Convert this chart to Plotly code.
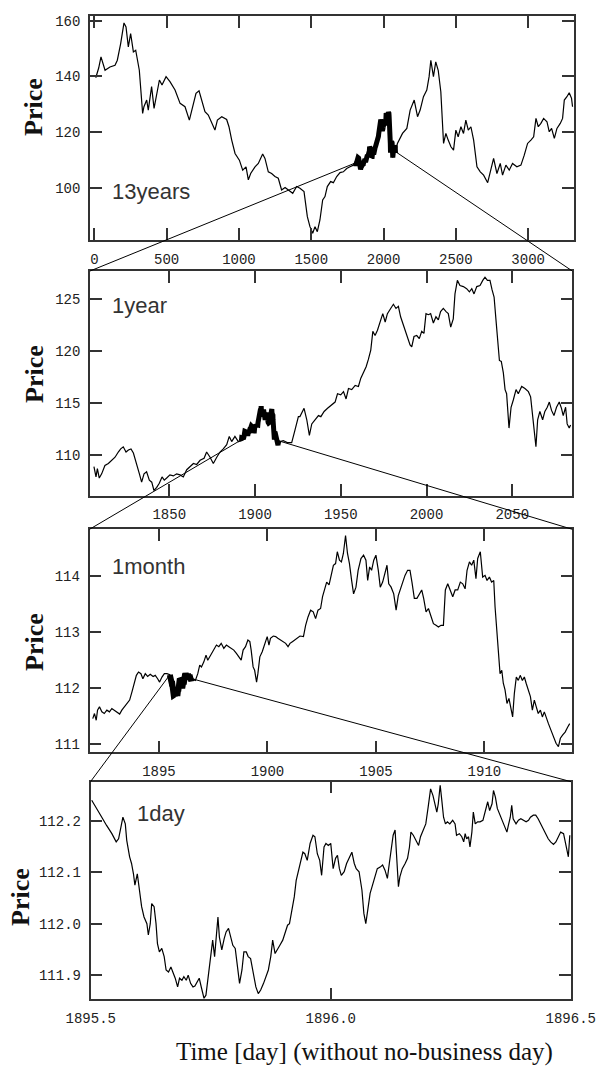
import plotly.graph_objects as go

W, H = 599, 1071

# ---------------- data ----------------
# 1 day window
day_x = [1895.502, 1895.513, 1895.523, 1895.533, 1895.544, 1895.553, 1895.558, 1895.563, 1895.567, 1895.572,
         1895.575, 1895.581, 1895.585, 1895.589, 1895.592, 1895.597, 1895.601, 1895.606, 1895.611, 1895.617,
         1895.620, 1895.624, 1895.627, 1895.632, 1895.636, 1895.639, 1895.643, 1895.648, 1895.653, 1895.657,
         1895.662, 1895.667, 1895.671, 1895.676, 1895.681, 1895.685, 1895.690, 1895.694, 1895.699, 1895.703,
         1895.708, 1895.713, 1895.717, 1895.722, 1895.726, 1895.731, 1895.736, 1895.740, 1895.745, 1895.750,
         1895.754, 1895.758, 1895.761, 1895.765, 1895.768, 1895.773, 1895.778, 1895.782, 1895.787, 1895.792,
         1895.796, 1895.801, 1895.806, 1895.810, 1895.815, 1895.819, 1895.824, 1895.828, 1895.833, 1895.839,
         1895.844, 1895.849, 1895.854, 1895.860, 1895.865, 1895.870, 1895.875, 1895.879, 1895.884, 1895.889,
         1895.894, 1895.900, 1895.905, 1895.910, 1895.914, 1895.919, 1895.924, 1895.928, 1895.933, 1895.937,
         1895.942, 1895.946, 1895.951, 1895.957, 1895.963, 1895.967, 1895.972, 1895.977, 1895.981, 1895.986,
         1895.990, 1895.995, 1896.000, 1896.005, 1896.010, 1896.014, 1896.018, 1896.022, 1896.028, 1896.033,
         1896.039, 1896.044, 1896.049, 1896.053, 1896.059, 1896.065, 1896.069, 1896.073, 1896.077, 1896.082,
         1896.087, 1896.092, 1896.097, 1896.103, 1896.108, 1896.113, 1896.118, 1896.122, 1896.127, 1896.130,
         1896.134, 1896.137, 1896.141, 1896.144, 1896.149, 1896.155, 1896.160, 1896.164, 1896.167, 1896.172,
         1896.178, 1896.183, 1896.187, 1896.193, 1896.198, 1896.203, 1896.208, 1896.213, 1896.217, 1896.221,
         1896.224, 1896.228, 1896.231, 1896.235, 1896.239, 1896.243, 1896.248, 1896.254, 1896.259, 1896.262,
         1896.268, 1896.273, 1896.277, 1896.280, 1896.283, 1896.287, 1896.290, 1896.294, 1896.297, 1896.301,
         1896.306, 1896.311, 1896.317, 1896.322, 1896.327, 1896.331, 1896.336, 1896.339, 1896.343, 1896.347,
         1896.353, 1896.358, 1896.363, 1896.367, 1896.370, 1896.374, 1896.377, 1896.380, 1896.386, 1896.391,
         1896.396, 1896.401, 1896.407, 1896.412, 1896.416, 1896.422, 1896.427, 1896.432, 1896.437, 1896.443,
         1896.448, 1896.453, 1896.458, 1896.464, 1896.469, 1896.474, 1896.479, 1896.485, 1896.488, 1896.492,
         1896.495, 1896.498]
day_p = [112.240, 112.224, 112.207, 112.191, 112.175, 112.159, 112.165, 112.188, 112.207, 112.194,
         112.162, 112.130, 112.117, 112.097, 112.075, 112.097, 112.068, 112.033, 112.013, 112.000,
         111.978, 112.000, 112.039, 112.033, 112.000, 111.961, 111.945, 111.952, 111.936, 111.910,
         111.906, 111.916, 111.906, 111.894, 111.877, 111.894, 111.890, 111.897, 111.890, 111.900,
         111.884, 111.877, 111.879, 111.887, 111.894, 111.874, 111.855, 111.861, 111.897, 111.936,
         111.968, 111.936, 111.978, 112.013, 111.974, 111.949, 111.971, 111.984, 111.991, 111.974,
         111.958, 111.952, 111.916, 111.884, 111.910, 111.945, 111.945, 111.936, 111.932, 111.903,
         111.877, 111.864, 111.871, 111.884, 111.897, 111.910, 111.936, 111.968, 111.942, 111.949,
         111.958, 111.968, 111.981, 111.997, 112.000, 112.026, 112.052, 112.084, 112.104, 112.118,
         112.139, 112.136, 112.123, 112.156, 112.172, 112.169, 112.136, 112.123, 112.094, 112.149,
         112.156, 112.152, 112.156, 112.107, 112.127, 112.133, 112.107, 112.094, 112.101, 112.117,
         112.130, 112.139, 112.117, 112.107, 112.101, 112.065, 112.020, 112.000, 112.026, 112.059,
         112.075, 112.091, 112.107, 112.110, 112.114, 112.104, 112.088, 112.117, 112.159, 112.172,
         112.182, 112.136, 112.072, 112.091, 112.107, 112.117, 112.127, 112.149, 112.178, 112.172,
         112.162, 112.152, 112.169, 112.182, 112.194, 112.227, 112.262, 112.249, 112.230, 112.217,
         112.233, 112.269, 112.243, 112.207, 112.194, 112.198, 112.194, 112.201, 112.194, 112.172,
         112.175, 112.169, 112.159, 112.175, 112.165, 112.169, 112.149, 112.178, 112.217, 112.194,
         112.198, 112.198, 112.201, 112.220, 112.237, 112.220, 112.233, 112.259, 112.246, 112.224,
         112.211, 112.198, 112.188, 112.178, 112.191, 112.207, 112.230, 112.204, 112.194, 112.201,
         112.204, 112.201, 112.198, 112.201, 112.207, 112.211, 112.211, 112.204, 112.194, 112.185,
         112.172, 112.165, 112.159, 112.154, 112.159, 112.169, 112.178, 112.175, 112.159, 112.139,
         112.130, 112.172]

# 1 month window (points outside the 1-day window)
month_x = [1891.95, 1892.03, 1892.11, 1892.17, 1892.26, 1892.37, 1892.48, 1892.60, 1892.72, 1892.83,
           1892.94, 1893.06, 1893.19, 1893.29, 1893.40, 1893.52, 1893.65, 1893.76, 1893.86, 1893.96,
           1894.06, 1894.17, 1894.26, 1894.37, 1894.48, 1894.60, 1894.73, 1894.83, 1894.94, 1895.03,
           1895.14, 1895.25, 1895.37,
           1896.68, 1896.79, 1896.88, 1896.96, 1897.07, 1897.17, 1897.25, 1897.34, 1897.45, 1897.53,
           1897.65, 1897.76, 1897.87, 1897.99, 1898.11, 1898.22, 1898.33, 1898.45, 1898.57, 1898.68,
           1898.79, 1898.88, 1898.99, 1899.10, 1899.19, 1899.25, 1899.34, 1899.41, 1899.50, 1899.56,
           1899.65, 1899.76, 1899.84, 1899.91, 1899.99, 1900.07, 1900.14, 1900.27, 1900.38, 1900.48,
           1900.61, 1900.73, 1900.84, 1900.95, 1901.04, 1901.15, 1901.25, 1901.38, 1901.50, 1901.66,
           1901.76, 1901.87, 1901.99, 1902.11, 1902.22, 1902.33, 1902.45, 1902.54, 1902.64, 1902.73,
           1902.84, 1902.94, 1903.04, 1903.14, 1903.22, 1903.32, 1903.41, 1903.50, 1903.60, 1903.69,
           1903.78, 1903.88, 1903.97, 1904.08, 1904.18, 1904.31, 1904.43, 1904.54, 1904.62, 1904.71,
           1904.80, 1904.90, 1905.00, 1905.11, 1905.20, 1905.31, 1905.42, 1905.51, 1905.59, 1905.70,
           1905.82, 1905.93, 1906.03, 1906.12, 1906.23, 1906.34, 1906.46, 1906.57, 1906.66, 1906.77,
           1906.89, 1907.00, 1907.11, 1907.20, 1907.31, 1907.42, 1907.54, 1907.65, 1907.77, 1907.88,
           1908.00, 1908.11, 1908.20, 1908.31, 1908.42, 1908.54, 1908.65, 1908.77, 1908.89, 1909.00,
           1909.11, 1909.20, 1909.31, 1909.41, 1909.51, 1909.61, 1909.69, 1909.81, 1909.92, 1910.03,
           1910.12, 1910.23, 1910.33, 1910.43, 1910.49, 1910.57, 1910.64, 1910.72, 1910.80, 1910.87,
           1910.95, 1911.04, 1911.13, 1911.22, 1911.30, 1911.38, 1911.47, 1911.56, 1911.65, 1911.75,
           1911.84, 1911.93, 1912.02, 1912.12, 1912.21, 1912.30, 1912.39, 1912.48, 1912.58, 1912.67,
           1912.76, 1912.85, 1912.95, 1913.07, 1913.19, 1913.30, 1913.41, 1913.50, 1913.61, 1913.72,
           1913.84, 1913.93]
month_p = [111.46, 111.55, 111.43, 111.61, 111.67, 111.58, 111.55, 111.61, 111.58, 111.64,
           111.61, 111.58, 111.54, 111.61, 111.67, 111.73, 111.79, 111.94, 112.08, 112.23,
           112.29, 112.26, 112.17, 112.26, 112.21, 112.25, 112.21, 112.23, 112.17, 112.11,
           112.20, 112.26, 112.26,
           112.14, 112.26, 112.41, 112.38, 112.47, 112.59, 112.50, 112.56, 112.62, 112.68,
           112.77, 112.74, 112.80, 112.71, 112.77, 112.74, 112.71, 112.68, 112.62, 112.56,
           112.50, 112.68, 112.74, 112.86, 112.83, 112.68, 112.38, 112.32, 112.11, 112.26,
           112.56, 112.65, 112.74, 112.83, 112.92, 112.77, 112.89, 112.93, 112.92, 112.89,
           112.86, 112.83, 112.80, 112.74, 112.80, 112.83, 112.86, 112.89, 112.93, 112.92,
           113.12, 113.27, 113.39, 113.36, 113.24, 113.39, 113.42, 113.63, 113.75, 113.89,
           113.84, 114.04, 114.19, 114.22, 114.43, 114.28, 114.25, 114.40, 114.72, 114.40,
           114.22, 113.92, 113.68, 113.80, 114.10, 114.31, 114.37, 114.28, 113.92, 114.16,
           114.10, 114.28, 114.37, 114.10, 113.80, 113.89, 114.07, 114.19, 113.86, 113.80,
           113.68, 113.39, 113.65, 113.75, 113.89, 114.01, 114.10, 114.10, 113.89, 113.60,
           113.60, 113.68, 113.75, 113.60, 113.36, 113.42, 113.27, 113.15, 113.12, 113.09,
           113.12, 113.12, 113.75, 113.86, 113.75, 113.63, 113.75, 113.75, 113.89, 113.86,
           113.77, 114.10, 114.25, 114.19, 114.28, 113.95, 114.31, 114.43, 113.98, 114.01,
           113.92, 113.98, 113.89, 113.92, 113.45, 112.97, 112.62, 112.26, 112.32, 112.09,
           111.97, 111.73, 111.82, 111.61, 111.49, 111.91, 112.20, 112.14, 112.23, 112.14,
           112.20, 112.08, 111.97, 111.85, 111.61, 111.79, 111.67, 111.55, 111.61, 111.49,
           111.58, 111.46, 111.37, 111.25, 111.14, 111.02, 110.96, 111.11, 111.17, 111.22,
           111.31, 111.37]

# 1 year window (points outside the 1-month window)
year_x = [1806.1, 1807.3, 1808.1, 1809.2, 1810.6, 1812.5, 1814.5, 1816.4, 1818.4, 1820.3,
          1821.7, 1823.2, 1824.8, 1826.2, 1827.7, 1829.1, 1831.0, 1832.6, 1833.9, 1835.3,
          1836.8, 1838.4, 1839.8, 1841.1, 1842.7, 1844.2, 1845.8, 1847.1, 1848.5, 1850.4,
          1852.4, 1854.3, 1856.3, 1858.2, 1860.2, 1862.1, 1864.1, 1866.0, 1868.0, 1870.3,
          1871.8, 1873.8, 1875.7, 1877.7, 1879.6, 1881.5, 1883.5, 1885.0, 1886.4, 1888.3,
          1890.3,
          1914.6, 1916.5, 1918.8, 1921.4, 1923.3, 1925.3, 1926.2, 1928.6, 1930.2, 1931.7,
          1933.1, 1935.0, 1937.0, 1938.4, 1940.3, 1942.3, 1944.8, 1946.7, 1948.1, 1950.0,
          1951.6, 1953.1, 1954.5, 1956.4, 1958.4, 1960.3, 1961.7, 1963.3, 1964.8, 1966.1,
          1967.5, 1968.7, 1970.0, 1971.4, 1972.9, 1974.5, 1975.9, 1977.2, 1979.1, 1980.7,
          1982.2, 1983.6, 1984.9, 1986.1, 1987.5, 1988.8, 1990.4, 1991.4, 1992.7, 1994.3,
          1995.8, 1997.2, 1998.5, 1999.7, 2001.1, 2002.4, 2004.0, 2005.5, 2006.9, 2008.2,
          2009.8, 2011.4, 2012.7, 2014.1, 2015.6, 2016.6, 2018.0, 2019.5, 2021.5, 2023.4,
          2025.0, 2026.4, 2027.7, 2029.3, 2031.2, 2032.8, 2034.1, 2035.5, 2037.0, 2038.2,
          2039.4, 2040.5, 2041.5, 2042.5, 2043.6, 2044.8, 2045.8, 2046.7, 2048.1, 2049.3,
          2050.6, 2052.2, 2053.5, 2055.5, 2057.4, 2059.4, 2060.7, 2061.9, 2062.8, 2063.8,
          2064.8, 2066.1, 2067.7, 2069.0, 2070.4, 2071.6, 2072.9, 2074.3, 2075.8, 2077.4,
          2078.7, 2079.7, 2081.1, 2082.0, 2083.2, 2084.0]
year_p = [108.9, 107.9, 108.7, 107.8, 108.2, 109.0, 109.2, 109.5, 109.8, 110.3,
          110.6, 110.8, 110.3, 110.5, 110.6, 110.2, 109.2, 108.2, 107.4, 108.2,
          108.4, 107.6, 107.4, 106.6, 106.9, 107.3, 107.9, 107.6, 107.8, 108.1,
          108.0, 108.2, 108.1, 107.9, 108.6, 108.9, 109.2, 109.1, 109.5, 109.7,
          110.3, 109.8, 109.2, 109.8, 110.3, 110.6, 111.0, 111.8, 111.3, 111.8,
          111.3,
          111.3, 111.4, 111.2, 111.2, 112.4, 113.7, 113.7, 114.5, 113.4, 111.9,
          113.0, 113.4, 113.8, 113.7, 114.2, 114.5, 114.8, 115.1, 115.9, 115.8,
          116.1, 115.4, 116.4, 116.3, 116.7, 116.6, 117.4, 118.0, 118.5, 119.2,
          120.1, 121.9, 121.5, 122.0, 122.7, 123.6, 122.8, 123.6, 124.1, 124.5,
          124.1, 124.3, 123.3, 122.7, 122.0, 121.4, 120.6, 120.4, 121.4, 121.5,
          121.2, 121.9, 121.7, 123.6, 123.5, 123.6, 122.7, 123.3, 123.0, 123.8,
          124.1, 123.8, 123.6, 122.3, 123.1, 125.5, 126.8, 126.3, 126.2, 126.0,
          125.7, 126.0, 125.5, 126.2, 126.3, 126.8, 127.1, 126.8, 126.8, 125.9,
          125.2, 123.0, 120.7, 119.1, 119.0, 117.9, 116.3, 115.9, 112.6, 114.6,
          115.3, 116.3, 115.9, 116.6, 116.4, 116.1, 115.6, 113.7, 112.1, 110.8,
          113.4, 114.2, 113.4, 114.2, 114.6, 115.1, 114.3, 113.8, 114.6, 115.1,
          114.5, 113.8, 114.6, 113.0, 112.6, 112.9]

# 13 years (points outside the 1-year window)
thirteen_x = [10, 30, 46, 74, 108, 143, 159, 182, 205, 219, 235, 251, 270, 286, 311, 334, 343, 362, 373, 396,
              413, 431, 450, 468, 496, 523, 558, 593, 627, 657, 673, 703, 724, 742, 765, 788, 811, 834, 851, 881,
              915, 931, 950, 973, 1003, 1026, 1049, 1065, 1081, 1111, 1134, 1164, 1180, 1203, 1226, 1249, 1272,
              1295, 1319, 1342, 1372, 1399, 1422, 1450, 1473, 1491, 1510, 1526, 1542, 1560, 1579, 1595, 1611,
              1634, 1653, 1676, 1699, 1722, 1745, 1768, 1791,
              2096, 2131, 2161, 2184, 2212, 2235, 2253, 2276, 2299, 2315, 2327, 2345, 2361, 2378, 2396, 2415,
              2431, 2447, 2466, 2484, 2500, 2516, 2535, 2553, 2569, 2586, 2604, 2623, 2646, 2669, 2692, 2720,
              2743, 2761, 2784, 2807, 2823, 2846, 2869, 2892, 2922, 2950, 2973, 2996, 3019, 3038, 3054, 3070,
              3088, 3107, 3130, 3146, 3162, 3181, 3199, 3222, 3238, 3250, 3268, 3284, 3300, 3307]
thirteen_p = [139.5, 143.0, 147.0, 142.2, 143.4, 144.0, 145.8, 151.8, 159.2, 157.8, 150.6, 155.4, 148.8, 149.4,
              142.2, 126.7, 129.1, 131.5, 127.9, 136.3, 128.5, 133.9, 138.7, 136.9, 139.9, 138.1, 135.1, 130.3,
              129.1, 124.3, 127.3, 133.9, 134.8, 131.5, 127.3, 126.1, 123.1, 120.7, 124.3, 125.5, 124.5, 121.9,
              117.1, 112.3, 109.9, 106.3, 107.5, 102.8, 105.1, 107.5, 108.7, 112.1, 110.5, 105.7, 105.1, 104.0,
              103.4, 99.2, 100.1, 99.2, 98.0, 100.4, 99.8, 98.6, 89.6, 86.0, 83.6, 86.0, 84.2, 88.4, 95.6, 96.8,
              100.4, 102.2, 101.8, 104.0, 105.4, 105.7, 106.9, 107.5, 108.1,
              115.9, 119.5, 121.3, 127.9, 131.5, 125.5, 127.9, 132.7, 135.1, 139.9, 145.8, 139.9, 145.2, 142.2,
              134.5, 115.9, 119.5, 117.1, 114.7, 113.5, 120.7, 118.3, 121.9, 119.5, 124.3, 120.7, 121.9, 117.1,
              107.5, 105.7, 104.5, 101.8, 106.9, 110.5, 105.1, 108.7, 104.5, 108.1, 106.3, 108.7, 107.5, 108.1,
              111.7, 115.9, 117.1, 118.3, 124.9, 121.9, 123.1, 124.9, 123.7, 120.1, 121.3, 117.7, 121.3, 123.1,
              124.9, 131.5, 132.7, 134.1, 132.1, 129.1]

panel_labels = ["13years", "1year", "1month", "1day"]
x_ticks = [[0, 500, 1000, 1500, 2000, 2500, 3000],
           [1850, 1900, 1950, 2000, 2050],
           [1895, 1900, 1905, 1910],
           [1895.5, 1896.0, 1896.5]]
y_ticks = [[100, 120, 140, 160],
           [110, 115, 120, 125],
           [111, 112, 113, 114],
           [111.9, 112.0, 112.1, 112.2]]
x_ranges = [[-30, 3317], [1803.8, 2085.0], [1891.8, 1914.05], [1895.4995, 1896.5005]]
y_ranges = [[81.2, 161.7], [106.1, 127.7], [110.86, 114.83], [111.853, 112.276]]


def merge(ax, ay, bx, by):
    pairs = sorted(zip(list(ax) + list(bx), list(ay) + list(by)))
    return [p[0] for p in pairs], [p[1] for p in pairs]


day_fx, day_fp = list(day_x), list(day_p)
month_fx, month_fp = merge(month_x, month_p, day_fx, day_fp)
year_fx, year_fp = merge(year_x, year_p, month_fx, month_fp)
thir_fx, thir_fp = merge(thirteen_x, thirteen_p, year_fx, year_fp)
full = [(thir_fx, thir_fp), (year_fx, year_fp), (month_fx, month_fp), (day_fx, day_fp)]

# ---------------- layout (pixel boxes of the plot areas) ----------------
xbox = [[90, 574], [90, 572.3], [89.5, 572.3], [90.5, 571]]
ybox = [[16, 240], [271, 495.7], [529.3, 752.3], [781.7, 999.3]]
bold_w = [5, 5, 6]
label_pos = [(110, 191.7), (110, 305.5), (110, 566.7), (135, 813.3)]
price_pos = [(34, 107), (34, 374), (34, 642), (20, 897)]

fig = go.Figure()
for i in range(4):
    sx = "" if i == 0 else str(i + 1)
    fx, fp = full[i]
    fig.add_trace(go.Scatter(x=fx, y=fp, mode="lines", xaxis="x" + sx, yaxis="y" + sx,
                             line=dict(color="black", width=1.2), showlegend=False, hoverinfo="skip"))
    if i < 3:
        nx, npv = full[i + 1]
        fig.add_trace(go.Scatter(x=nx, y=npv, mode="lines", xaxis="x" + sx, yaxis="y" + sx,
                                 line=dict(color="black", width=bold_w[i]), showlegend=False,
                                 hoverinfo="skip"))

tick_font = dict(family="Liberation Mono", size=14, color="#222")
layout = dict(width=W, height=H, margin=dict(l=0, r=0, t=0, b=0, autoexpand=False),
              paper_bgcolor="white", plot_bgcolor="white", showlegend=False)
for i in range(4):
    sx = "" if i == 0 else str(i + 1)
    xd = [xbox[i][0] / W, xbox[i][1] / W]
    yd = [1 - ybox[i][1] / H, 1 - ybox[i][0] / H]
    common = dict(showline=True, linecolor="#333", linewidth=1.5, mirror="ticks", ticks="inside",
                  ticklen=12, tickwidth=1.5, tickcolor="#333", showgrid=False, zeroline=False,
                  tickfont=tick_font, automargin=False)
    xa = dict(common, domain=xd, anchor="y" + sx, range=x_ranges[i], tickvals=x_ticks[i],
              ticklabelstandoff=5)
    ya = dict(common, domain=yd, anchor="x" + sx, range=y_ranges[i], tickvals=y_ticks[i],
              ticklabelstandoff=5)
    if i == 3:
        xa["tickformat"] = ".1f"
        ya["tickformat"] = ".1f"
    layout["xaxis" + sx] = xa
    layout["yaxis" + sx] = ya

annotations = []
for i in range(4):
    lx, ly = label_pos[i]
    annotations.append(dict(text=panel_labels[i], x=lx / W, y=1 - ly / H, xref="paper", yref="paper",
                            xanchor="left", yanchor="middle", showarrow=False,
                            font=dict(family="Liberation Sans", size=22, color="#333")))
    px_, py_ = price_pos[i]
    annotations.append(dict(text="<b>Price</b>", x=px_ / W, y=1 - py_ / H, xref="paper", yref="paper",
                            xanchor="center", yanchor="middle", textangle=-90, showarrow=False,
                            font=dict(family="Liberation Serif", size=26, color="#111")))
annotations.append(dict(text="Time [day] (without no-business day)", x=364 / W, y=1 - 1051.7 / H,
                        xref="paper", yref="paper", xanchor="center", yanchor="middle",
                        showarrow=False, font=dict(family="Liberation Serif", size=25, color="#111")))
layout["annotations"] = annotations


# connector lines: from the zoomed window in the upper panel to the corners of the lower panel
def to_px(i, xv, yv):
    x0, x1 = x_ranges[i]
    y0, y1 = y_ranges[i]
    px = xbox[i][0] + (xv - x0) / (x1 - x0) * (xbox[i][1] - xbox[i][0])
    py = ybox[i][1] - (yv - y0) / (y1 - y0) * (ybox[i][1] - ybox[i][0])
    return px, py


shapes = []
for i in range(3):
    nx, npv = full[i + 1]
    for k, corner_x in ((0, xbox[i + 1][0]), (-1, xbox[i + 1][1])):
        ux, uy = to_px(i, nx[k], npv[k])
        shapes.append(dict(type="line", xref="paper", yref="paper",
                           x0=ux / W, y0=1 - uy / H, x1=corner_x / W, y1=1 - ybox[i + 1][0] / H,
                           line=dict(color="black", width=1)))
layout["shapes"] = shapes

fig.update_layout(**layout)
fig.write_html("out.html")
